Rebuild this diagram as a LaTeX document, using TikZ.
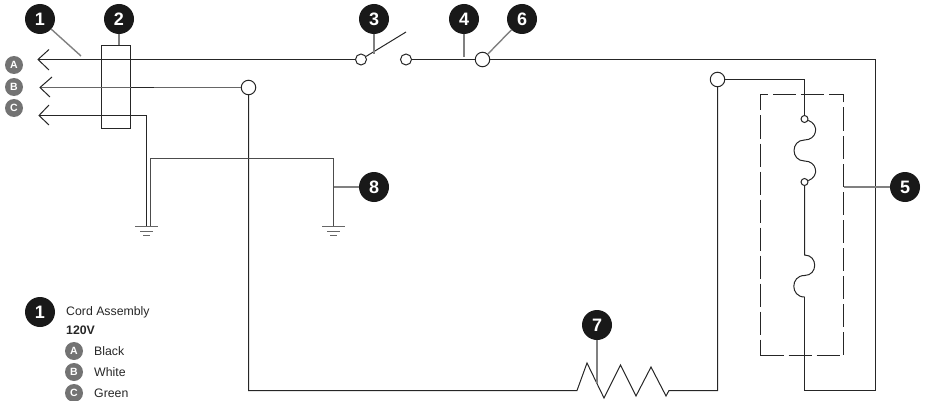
\documentclass[tikz,border=0pt]{standalone}
\usepackage{fontspec}
\setmainfont{Liberation Sans}
\tikzstyle{num} = [circle, fill=black!90, text=white, inner sep=0pt, minimum size=30pt, font={\fontsize{18}{18}\bfseries}]
\tikzstyle{letter} = [circle, fill=black!55, text=white, inner sep=0pt, minimum size=18pt, font={\fontsize{10.5}{10.5}\bfseries}]
\tikzstyle{term} = [draw=black!85, fill=white, circle, inner sep=0pt, minimum size=14.5pt, line width=1pt]
\tikzstyle{contact} = [term, minimum size=11pt]
\tikzstyle{tiny} = [term, minimum size=7pt]
\tikzstyle{wire} = [draw=black!85, line width=1pt]
\tikzstyle{greywire} = [draw=black!60, line width=1.3pt]
\tikzstyle{leader} = [draw=black!50, line width=1.4pt]
\tikzstyle{legend} = [anchor=west, inner sep=0pt, text=black!85, font={\fontsize{12.3}{12.3}\selectfont}]

\begin{document}
\begin{tikzpicture}[x=1pt,y=-1pt]
        \useasboundingbox (0,0) rectangle (925,401);
        \node[num](n1) at (40,19){1};
        \node[num](n2) at (119,19){2};
        \node[num](n3) at (374,19){3};
        \node[num](n4) at (464,19){4};
        \node[num](n6) at (522,19){6};
        \node[num](n5) at (905,187){5};
        \node[num](n7) at (597,325){7};
        \node[num](n8) at (374,187){8};
        \node[letter](a) at (14,65){A};
        \node[letter](b) at (14,87){B};
        \node[letter](c) at (14,108){C};
        \node[draw=black!85,line width=1pt,minimum width=29pt,minimum height=83pt,inner sep=0pt](cordbox) at (116,87){};
        \node[draw=black!85,line width=1pt,dash pattern=on 23pt off 5pt,minimum width=83pt,minimum height=261pt,inner sep=0pt](heatbox) at (802,225){};
        \node[contact](sw1) at (361,59.5){};
        \node[contact](sw2) at (406,59.5){};
        \node[term](t6) at (482.5,59.5){};
        \node[term](tb) at (248.5,87.5){};
        \node[term](th) at (717.5,79.5){};
        \node[tiny](fa) at (804.5,119){};
        \node[tiny](fb) at (804.5,182){};
        \coordinate (tipa) at (38,59.5);
        \coordinate (tipb) at (40,87.5);
        \coordinate (tipc) at (39,115.5);
        \coordinate (blade) at (406,32);
        \coordinate (bx) at (154,87.5);
        \coordinate (boxb) at (130.5,87.5);
        \coordinate (gnda) at (146.5,226.5);
        \coordinate (gndb) at (150.5,226.5);
        \coordinate (gndc) at (333.5,226.5);
        \coordinate (res1) at (577,390.5);
        \coordinate (res2) at (669,390.5);
        \coordinate (fc) at (804.5,255);
        \coordinate (fd) at (804.5,297);
        \draw[wire](tipa)--(sw1);
        \draw[wire](49,49.5)--(tipa)--(49,70);
        \draw[greywire](tipb)--(tb);
        \draw[wire](52,77)--(tipb)--(50,97);
        \draw[wire,line width=1.4pt](boxb)--(bx);
        \draw[wire](tipc)-|(gnda);
        \draw[wire](49,105)--(tipc)--(49,125);
        \draw[wire](sw1)--(blade);
        \draw[wire](sw2)--(t6);
        \draw[wire](t6)-|(875.5,390.5)-|(fd);
        \draw[wire](fd)to[out=180,in=180,looseness=1.7](804.5,275.5)to[out=0,in=0,looseness=1.7](fc)--(fb);
        \draw[wire](fb)to[out=20,in=0,looseness=1.6](804.5,161)to[out=180,in=180,looseness=1.7](804.5,140)to[out=0,in=-20,looseness=1.6](fa);
        \draw[wire](fa)|-(th);
        \draw[wire](th)|-(res2)--(666,396)--(651,367)--(636,396)--(620.5,365)--(604,398)--(587,363)--(res1)-|(tb);
        \draw[wire,draw=black!70,line width=1.3pt](gndb)|-(333.5,158.5)--(gndc);
        \draw[wire,draw=black!60](135,226.5)--(158,226.5);
        \draw[wire,draw=black!60](140,231.5)--(153,231.5);
        \draw[wire,draw=black!60](143,235.5)--(150,235.5);
        \draw[wire,draw=black!60](322,226.5)--(345,226.5);
        \draw[wire,draw=black!60](327,231.5)--(340,231.5);
        \draw[wire,draw=black!60](330,235.5)--(337,235.5);
        \draw[leader](n1)--(81,56);
        \draw[leader](n2)--(cordbox.north-|n2);
        \draw[leader](n3)--(374,54);
        \draw[leader](n4)--(464,57);
        \draw[leader](n6)--(t6);
        \draw[leader](n5)--(heatbox.east|-n5);
        \draw[leader](n7)--(597,383);
        \draw[leader](n8)--(333.5,187);
        \node[num](k1) at (40,312){1};
        \node[legend](ktitle) at (66,312){Cord Assembly};
        \node[legend,font={\fontsize{12.3}{12.3}\bfseries}](kvolt) at (66,330){120V};
        \node[letter](ka) at (74,351){A};
        \node[letter](kb) at (74,372){B};
        \node[letter](kc) at (74,393){C};
        \node[legend](kat) at (94,351){Black};
        \node[legend](kbt) at (94,372){White};
        \node[legend](kct) at (94,393){Green};
      \end{tikzpicture}
\end{document}
